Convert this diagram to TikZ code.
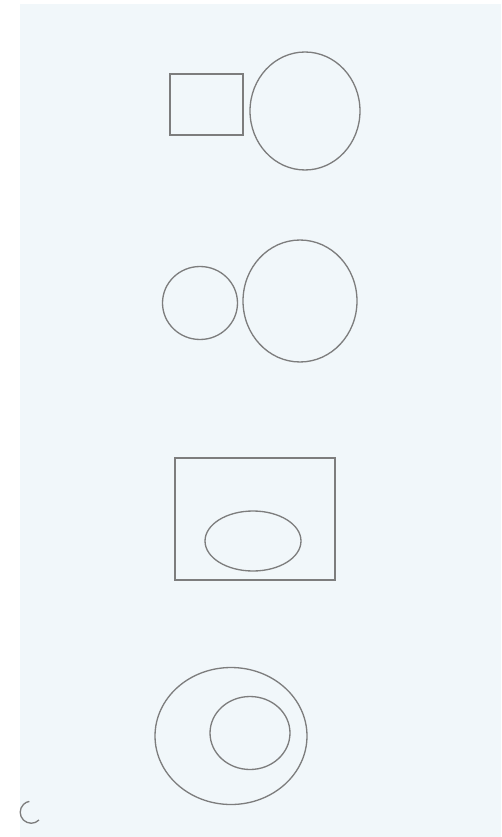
\documentclass[tikz,border=0pt]{standalone}
\usepackage{tikz}
\usetikzlibrary{shapes,positioning}
\definecolor{paper}{RGB}{241,247,250}
\definecolor{pencil}{RGB}{125,125,125}

\begin{document}
\begin{tikzpicture}[
    x=0.02cm, y=-0.02cm,
    sketch/.style={draw=pencil, line width=0.75pt, inner sep=0pt},
    box/.style={sketch, rectangle},
    ring/.style={sketch, ellipse}
]
% paper and scanner edge
\fill[white] (0,0) rectangle (501,837);
\fill[paper] (20,4) rectangle (501,837);
\useasboundingbox (0,0) rectangle (501,837);

% Row 1: square beside a circle
\node[box, minimum width=1.46cm, minimum height=1.22cm] (sq1) at (206.5,104.5) {};
\node[ring, minimum width=2.2cm, minimum height=2.36cm] (c1) at (305,111) {};

% Row 2: small circle beside a big circle
\node[ring, minimum width=1.5cm, minimum height=1.46cm] (c2a) at (200,303) {};
\node[ring, minimum width=2.28cm, minimum height=2.44cm] (c2b) at (300,301) {};

% Row 3: circle inside a square
\node[box, minimum width=3.2cm, minimum height=2.44cm] (sq3) at (255,519) {};
\node[ring, minimum width=1.92cm, minimum height=1.2cm] (c3) at (253,541) {};

% Row 4: circle inside a circle
\node[ring, minimum width=3.04cm, minimum height=2.74cm] (c4a) at (231,736) {};
\node[ring, minimum width=1.6cm, minimum height=1.46cm] (c4b) at (250,733) {};

% stray mark at the bottom edge
\draw[pencil, line width=0.75pt] (39,820) arc[start angle=45, end angle=260, radius=11];
\end{tikzpicture}
\end{document}
